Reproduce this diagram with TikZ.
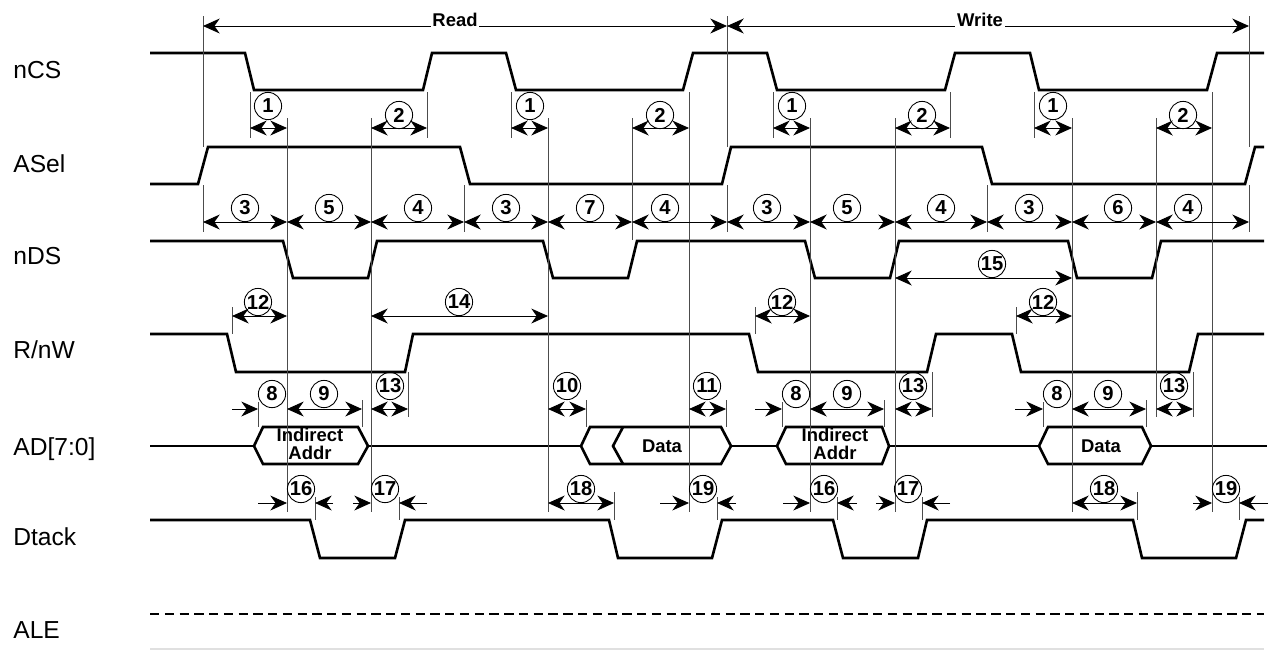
\documentclass[tikz,border=0pt]{standalone}
\usepackage{fontspec}
\setmainfont{Liberation Sans}
\usetikzlibrary{arrows.meta}
\tikzset{
	sig/.style={line width=1.5pt,line join=miter},
	tck/.style={line width=0.5pt,black!70},
	dim/.style={line width=0.5pt},
	num/.style={circle,draw,line width=0.5pt,inner sep=0pt,minimum size=15.5pt,font=\fontsize{11.5}{12}\selectfont\bfseries},
	lbl/.style={anchor=base west,inner sep=0pt,font=\fontsize{14}{16}\selectfont},
	bus/.style={align=center,inner sep=0pt,font=\fontsize{10.5}{9.8}\selectfont\bfseries},
	hdr/.style={fill=white,inner sep=1pt,anchor=base,font=\fontsize{10.5}{12}\selectfont\bfseries}
}
\begin{document}
\begin{tikzpicture}[x=0.02cm,y=-0.02cm,>={Stealth[length=9.5pt,width=8.5pt,inset=3pt]}]
	\useasboundingbox (0,0) rectangle (1270,650);
	%Ten tin hieu
	\node[lbl] (lnCS) at (13,78) {nCS};
	\node[lbl] (lASel) at (13,172) {ASel};
	\node[lbl] (lnDS) at (13,264) {nDS};
	\node[lbl] (lRnW) at (13,358) {R/nW};
	\node[lbl] (lAD) at (13,455) {AD[7:0]};
	\node[lbl] (lDtack) at (13,545) {Dtack};
	\node[lbl] (lALE) at (13,638) {ALE};
	%nCS
	\draw[sig] (150,53)--(245,53)--(254,90)--(423,90)--(432,53)--(506,53)--(516,90)--(683,90)--(693,53)--(767,53)--(777,90)--(945,90)--(955,53)--(1030,53)--(1039,90)--(1207,90)--(1217,53)--(1264,53);
	%ASel
	\draw[sig] (150,184)--(198,184)--(208,147)--(460,147)--(470,184)--(722,184)--(731,147)--(982,147)--(992,184)--(1245,184)--(1255,147)--(1264,147);
	%nDS
	\draw[sig] (150,241)--(283,241)--(293,278)--(368,278)--(377,241)--(543,241)--(553,278)--(628,278)--(637,241)--(805,241)--(815,278)--(890,278)--(899,241)--(1068,241)--(1077,278)--(1152,278)--(1161,241)--(1264,241);
	%R/nW
	\draw[sig] (150,334)--(227,334)--(236,372)--(405,372)--(413,334)--(749,334)--(758,372)--(927,372)--(936,334)--(1012,334)--(1021,372)--(1189,372)--(1198,334)--(1264,334);
	%AD[7:0]
	\draw[sig] (150,446)--(254,446) (368,446)--(581,446) (731,446)--(777,446) (889,446)--(1039,446) (1151,446)--(1267,446);
	\draw[sig] (254,446)--(263,427)--(358,427)--(368,446)--(358,464)--(263,464)--cycle;
	\draw[sig] (581,446)--(590,427)--(721,427)--(731,446)--(721,464)--(590,464)--cycle;
	\draw[sig] (623,427)--(613,446)--(623,464);
	\draw[sig] (777,446)--(786,427)--(882,427)--(889,446)--(882,464)--(786,464)--cycle;
	\draw[sig] (1039,446)--(1048,427)--(1142,427)--(1151,446)--(1142,464)--(1048,464)--cycle;
	\node[bus] (ia1) at (310,444) {Indirect\\Addr};
	\node[bus] (dr) at (662,446) {Data};
	\node[bus] (ia2) at (835,444) {Indirect\\Addr};
	\node[bus] (dw) at (1101,446) {Data};
	%Dtack
	\draw[sig] (150,520)--(310,520)--(320,558)--(395,558)--(405,520)--(609,520)--(618,558)--(712,558)--(722,520)--(833,520)--(843,558)--(918,558)--(927,520)--(1133,520)--(1142,558)--(1236,558)--(1246,520)--(1264,520);
	%ALE
	\draw[line width=1.2pt,dash pattern=on 5.3pt off 3.1pt] (150,614)--(1264,614);
	\draw[line width=0.6pt,black!12] (150,649)--(1264,649);
	%Vach moc dai
	\draw[tck] (203,16)--(203,147) (727,16)--(727,147) (1249,16)--(1249,147)
		(203,185)--(203,232) (464,185)--(464,232) (727,185)--(727,232) (987,185)--(987,232) (1249,185)--(1249,232)
		(287,118)--(287,512) (371,118)--(371,512) (548,118)--(548,512) (689,92)--(689,512)
		(810,118)--(810,512) (895,118)--(895,512) (1072,118)--(1072,512) (1212,92)--(1212,512)
		(632,118)--(632,240) (1156,118)--(1156,417);
	%Vach moc ngan
	\draw[tck] (250,92)--(250,138) (427,92)--(427,138) (511,92)--(511,138) (773,92)--(773,138) (950,92)--(950,138) (1034,92)--(1034,138)
		(232,307)--(232,334) (755,307)--(755,334) (1016,307)--(1016,334)
		(258,402)--(258,427) (362,400)--(362,427) (408,372)--(408,417) (586,400)--(586,427) (726,400)--(726,427)
		(782,402)--(782,427) (884,400)--(884,427) (932,372)--(932,417) (1043,402)--(1043,427) (1146,400)--(1146,427) (1193,372)--(1193,417)
		(315,497)--(315,520) (399,497)--(399,520) (614,492)--(614,520) (717,497)--(717,520)
		(837,497)--(837,520) (922,497)--(922,520) (1137,492)--(1137,520) (1239,497)--(1239,520);
	%Read, Write
	\draw[dim,<->] (203,26)--(727,26);
	\draw[dim,<->] (727,26)--(1249,26);
	\node[hdr] (read) at (455,26) {Read};
	\node[hdr] (write) at (980,26) {Write};
	%1, 2
	\draw[dim,<->] (250,128)--(287,128);
	\draw[dim,<->] (371,128)--(427,128);
	\draw[dim,<->] (511,128)--(548,128);
	\draw[dim,<->] (632,128)--(689,128);
	\draw[dim,<->] (773,128)--(810,128);
	\draw[dim,<->] (895,128)--(950,128);
	\draw[dim,<->] (1034,128)--(1072,128);
	\draw[dim,<->] (1156,128)--(1212,128);
	\node[num] (t1a) at (268,106) {1};
	\node[num] (t2a) at (399,115) {2};
	\node[num] (t1b) at (530,106) {1};
	\node[num] (t2b) at (660,115) {2};
	\node[num] (t1c) at (792,106) {1};
	\node[num] (t2c) at (922,115) {2};
	\node[num] (t1d) at (1053,106) {1};
	\node[num] (t2d) at (1183,115) {2};
	%3, 4, 5, 6, 7
	\draw[dim,<->] (203,222)--(287,222);
	\draw[dim,<->] (287,222)--(371,222);
	\draw[dim,<->] (371,222)--(464,222);
	\draw[dim,<->] (464,222)--(548,222);
	\draw[dim,<->] (548,222)--(632,222);
	\draw[dim,<->] (632,222)--(727,222);
	\draw[dim,<->] (727,222)--(810,222);
	\draw[dim,<->] (810,222)--(895,222);
	\draw[dim,<->] (895,222)--(987,222);
	\draw[dim,<->] (987,222)--(1072,222);
	\draw[dim,<->] (1072,222)--(1156,222);
	\draw[dim,<->] (1156,222)--(1249,222);
	\node[num] (t3a) at (245,208) {3};
	\node[num] (t5a) at (329,208) {5};
	\node[num] (t4a) at (418,208) {4};
	\node[num] (t3b) at (506,208) {3};
	\node[num] (t7) at (590,208) {7};
	\node[num] (t4b) at (665,208) {4};
	\node[num] (t3c) at (767,208) {3};
	\node[num] (t5b) at (847,208) {5};
	\node[num] (t4c) at (941,208) {4};
	\node[num] (t3d) at (1029,208) {3};
	\node[num] (t6) at (1118,208) {6};
	\node[num] (t4d) at (1188,208) {4};
	%15
	\draw[dim,<->] (895,278)--(1072,278);
	\node[num] (t15) at (992,264) {15};
	%12, 14
	\draw[dim,<->] (232,316)--(287,316);
	\draw[dim,<->] (371,316)--(548,316);
	\draw[dim,<->] (755,316)--(810,316);
	\draw[dim,<->] (1016,316)--(1072,316);
	\node[num] (t12a) at (258,302) {12};
	\node[num] (t14) at (459,302) {14};
	\node[num] (t12b) at (782,302) {12};
	\node[num] (t12c) at (1043,302) {12};
	%8, 9, 10, 11, 13
	\draw[dim,->] (232,409)--(258,409);
	\draw[dim,<->] (287,409)--(362,409);
	\draw[dim,<->] (371,409)--(408,409);
	\draw[dim,<->] (548,409)--(586,409);
	\draw[dim,<->] (689,409)--(726,409);
	\draw[dim,->] (755,409)--(782,409);
	\draw[dim,<->] (810,409)--(884,409);
	\draw[dim,<->] (895,409)--(932,409);
	\draw[dim,->] (1015,409)--(1043,409);
	\draw[dim,<->] (1072,409)--(1146,409);
	\draw[dim,<->] (1156,409)--(1193,409);
	\node[num] (t8a) at (272,394) {8};
	\node[num] (t9a) at (324,394) {9};
	\node[num] (t13a) at (390,386) {13};
	\node[num] (t10) at (567,386) {10};
	\node[num] (t11) at (707,386) {11};
	\node[num] (t8b) at (796,394) {8};
	\node[num] (t9b) at (847,394) {9};
	\node[num] (t13b) at (913,386) {13};
	\node[num] (t8c) at (1057,394) {8};
	\node[num] (t9c) at (1108,394) {9};
	\node[num] (t13c) at (1174,386) {13};
	%16, 17, 18, 19
	\draw[dim,->] (258,503)--(287,503);
	\draw[dim,->] (333,503)--(315,503);
	\draw[dim,->] (353,503)--(371,503);
	\draw[dim,->] (427,503)--(399,503);
	\draw[dim,<->] (548,503)--(614,503);
	\draw[dim,->] (660,503)--(689,503);
	\draw[dim,->] (736,503)--(717,503);
	\draw[dim,->] (783,503)--(810,503);
	\draw[dim,->] (857,503)--(837,503);
	\draw[dim,->] (876,503)--(895,503);
	\draw[dim,->] (950,503)--(922,503);
	\draw[dim,<->] (1072,503)--(1137,503);
	\draw[dim,->] (1193,503)--(1212,503);
	\draw[dim,->] (1268,503)--(1239,503);
	\node[num] (t16a) at (301,489) {16};
	\node[num] (t17a) at (385,489) {17};
	\node[num] (t18a) at (581,489) {18};
	\node[num] (t19a) at (703,489) {19};
	\node[num] (t16b) at (824,489) {16};
	\node[num] (t17b) at (908,489) {17};
	\node[num] (t18b) at (1104,489) {18};
	\node[num] (t19b) at (1226,489) {19};
\end{tikzpicture}
\end{document}
